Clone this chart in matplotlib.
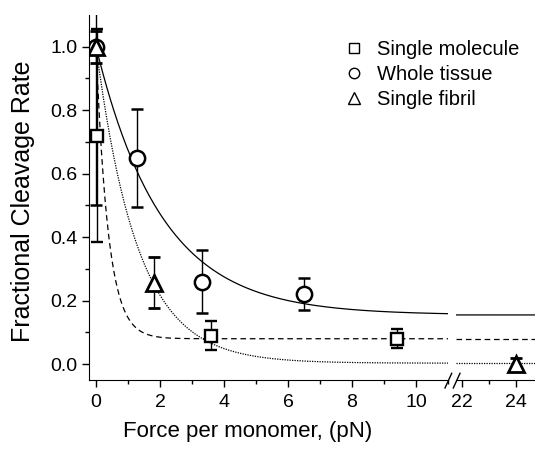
import matplotlib
matplotlib.use("Agg")
import matplotlib.pyplot as plt
from matplotlib.lines import Line2D
import numpy as np

plt.rcParams['font.family'] = ['Liberation Sans', 'DejaVu Sans']

# data
mol_x = [0.02, 3.6, 9.4]
mol_y = [0.72, 0.09, 0.08]
mol_err = [0.335, 0.045, 0.03]

tis_x = [0.0, 1.27, 3.3, 6.5]
tis_y = [1.0, 0.65, 0.26, 0.22]
tis_err = [0.5, 0.155, 0.10, 0.05]

fib_x = [0.0, 1.8, 24.0]
fib_y = [1.0, 0.256, 0.0]
fib_err = [0.05, 0.08, 0.02]

# exponential fits: y = c + (1 - c) * exp(-x / t)
fit_mol = (0.08, 0.38)
fit_tis = (0.155, 2.05)
fit_fib = (0.003, 1.3)

def fit(x, p):
    c, t = p
    return c + (1 - c) * np.exp(-x / t)

fig = plt.figure(figsize=(5.35, 4.5), dpi=100)
ax1 = fig.add_axes([89/535, 70/450, 359/535, 365/450])
ax2 = fig.add_axes([455.7/535, 70/450, 79.3/535, 365/450])

lim1 = (-0.22, 11.0)
lim2 = (21.78, 24.7)

for ax, lim in ((ax1, lim1), (ax2, lim2)):
    xs = np.linspace(0, lim[1], 400) if ax is ax1 else np.linspace(lim[0], lim[1], 50)
    ax.plot(xs, fit(xs, fit_tis), color='black', lw=0.9, zorder=2)
    ax.plot(xs, fit(xs, fit_mol), color='black', lw=0.9, dashes=(4.5, 3), zorder=2)
    ax.plot(xs, fit(xs, fit_fib), color='black', lw=0.9, ls=(0, (1, 1)), zorder=2)

    kw = dict(mfc='white', mec='black', ecolor='black', elinewidth=1,
              capsize=4, capthick=1, ls='none', zorder=3)
    ax.errorbar(mol_x, mol_y, yerr=mol_err, fmt='s', ms=8.8, mew=1.7, **kw)
    ax.errorbar(tis_x, tis_y, yerr=tis_err, fmt='o', ms=11, mew=1.8, **kw)
    ax.errorbar(fib_x, fib_y, yerr=fib_err, fmt='^', ms=11, mew=2.0, **kw)

    ax.set_xlim(*lim)
    ax.set_ylim(-0.05, 1.1)
    ax.spines['top'].set_visible(False)
    ax.spines['right'].set_visible(False)
    ax.tick_params(direction='out', length=5, width=1, labelsize=14)
    ax.tick_params(which='minor', direction='out', length=3, width=1)
    ax.tick_params(axis='x', pad=5)

ax1.set_xticks([0, 2, 4, 6, 8, 10])
ax1.set_xticks([1, 3, 5, 7, 9, 11], minor=True)
ax1.set_yticks([0.0, 0.2, 0.4, 0.6, 0.8, 1.0])
ax1.set_yticks([0.1, 0.3, 0.5, 0.7, 0.9], minor=True)
ax1.set_yticklabels(['0.0', '0.2', '0.4', '0.6', '0.8', '1.0'])
ax1.set_ylabel('Fractional Cleavage Rate', fontsize=18)
ax1.yaxis.set_label_coords(-0.150, 0.49)

ax2.set_xticks([22, 24])
ax2.set_xticks([23], minor=True)
ax2.spines['left'].set_visible(False)
ax2.tick_params(axis='y', which='both', left=False, labelleft=False)

# axis break marks
for x0 in (445, 453.3):
    fig.add_artist(Line2D([x0/535, (x0 + 6.7)/535], [1 - 388/450, 1 - 373.3/450],
                          color='black', lw=1))

fig.text(248/535, 1 - 431/450, 'Force per monomer, (pN)', fontsize=16,
         ha='center', va='center')

handles = [
    Line2D([], [], marker='s', ls='none', mfc='white', mec='black', ms=7, mew=1),
    Line2D([], [], marker='o', ls='none', mfc='white', mec='black', ms=7.5, mew=1),
    Line2D([], [], marker='^', ls='none', mfc='white', mec='black', ms=8, mew=1),
]
labels = ['Single molecule', 'Whole tissue', 'Single fibril']
fig.legend(handles, labels, loc='upper left', bbox_to_anchor=(345/535, 1 - 40/450),
           frameon=False, fontsize=14.5, handlelength=0.9, handletextpad=0.7,
           labelspacing=0.3, borderpad=0, borderaxespad=0)

fig.savefig('out.png', dpi=100)
